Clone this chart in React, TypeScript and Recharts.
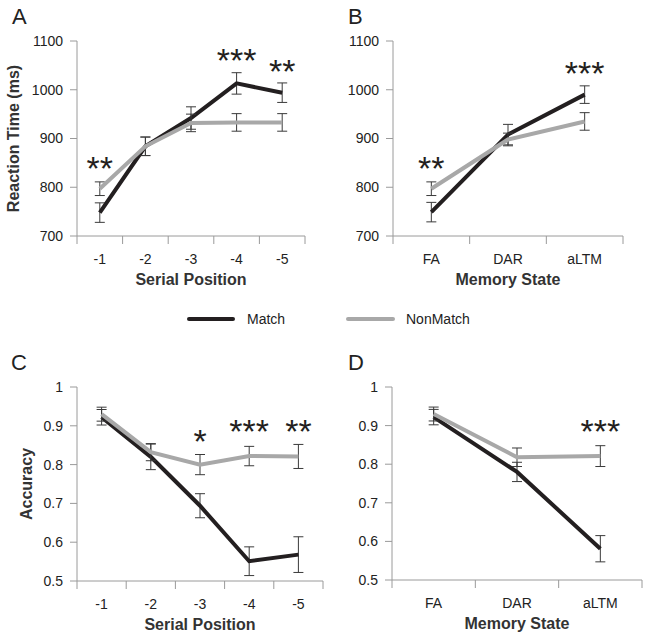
import React from "react";
import { LineChart, Line, XAxis, YAxis, ErrorBar, ReferenceDot } from "recharts";

const FONT = "'Liberation Sans', Arial, Helvetica, sans-serif";
const AXIS = "#9a9a9a";
const INK = "#231f20";
const GREY = "#a8a8a8";
const ERR = "#3a3a3a";

const serialPositions = ["-1", "-2", "-3", "-4", "-5"];
const memoryStates = ["FA", "DAR", "aLTM"];

// A - reaction time by serial position
const rtSerialMatch = [748, 884, 942, 1013, 994];
const rtSerialMatchErr = [20, 19, 23, 22, 20];
const rtSerialNonMatch = [797, 884, 932, 933, 933];
const rtSerialNonMatchErr = [14, 19, 18, 18, 18];
const rtSerialStars = ["**", "", "", "***", "**"];
const rtSerialStarY = [856, null, null, 1077, 1055];

// B - reaction time by memory state
const rtStateMatch = [749, 908, 990];
const rtStateMatchErr = [20, 21, 18];
const rtStateNonMatch = [797, 898, 935];
const rtStateNonMatchErr = [14, 13, 18];
const rtStateStars = ["**", "", "***"];
const rtStateStarY = [856, null, 1051];

// C - accuracy by serial position
const accSerialMatch = [0.922, 0.82, 0.694, 0.551, 0.568];
const accSerialMatchErr = [0.02, 0.033, 0.031, 0.037, 0.046];
const accSerialNonMatch = [0.93, 0.832, 0.8, 0.822, 0.821];
const accSerialNonMatchErr = [0.018, 0.022, 0.026, 0.025, 0.031];
const accSerialStars = ["", "", "*", "***", "**"];
const accSerialStarY = [null, null, 0.881, 0.907, 0.907];

// D - accuracy by memory state
const accStateMatch = [0.922, 0.78, 0.581];
const accStateMatchErr = [0.02, 0.025, 0.034];
const accStateNonMatch = [0.93, 0.818, 0.821];
const accStateNonMatchErr = [0.018, 0.024, 0.027];
const accStateStars = ["", "", "***"];
const accStateStarY = [null, null, 0.907];

const rtTicks = [700, 800, 900, 1000, 1100];
const accTicks = [0.5, 0.6, 0.7, 0.8, 0.9, 1];

type PanelProps = {
  left: number;
  top: number;
  width: number;
  height: number;
  plotLeft: number;
  plotRight: number;
  plotTop: number;
  plotBottom: number;
  categories: string[];
  match: number[];
  matchErr: number[];
  nonMatch: number[];
  nonMatchErr: number[];
  stars: string[];
  starY: (number | null)[];
  yDomain: [number, number];
  yTicks: number[];
  xTitle: string;
  yTitle?: string;
  yTitleX?: number;
};

function makeXTick(labels: string[]) {
  return (props: any) => {
    const { x, y, payload } = props;
    const v = payload.value as number;
    if (Number.isInteger(v)) {
      return (
        <text x={x} y={y + 28} textAnchor="middle" fontSize={14} fill="#222" fontFamily={FONT}>
          {labels[v - 1]}
        </text>
      );
    }
    return <line x1={x} x2={x} y1={y} y2={y + 8} stroke={AXIS} strokeWidth={1} />;
  };
}

function starLabel(text: string) {
  return (props: any) => {
    const vb = props.viewBox || {};
    const cx = vb.x + (vb.width || 0) / 2;
    const cy = vb.y + (vb.height || 0) / 2;
    return (
      <text x={cx} y={cy + 20} textAnchor="middle" fontSize={34} fill={INK} fontFamily={FONT}>
        {text}
      </text>
    );
  };
}

function Panel(p: PanelProps) {
  const data = p.categories.map((c, i) => ({
    x: i + 1,
    match: p.match[i],
    matchErr: p.matchErr[i],
    nonMatch: p.nonMatch[i],
    nonMatchErr: p.nonMatchErr[i],
  }));
  const n = p.categories.length;
  const xTicks: number[] = [];
  for (let i = 0; i <= n * 2; i++) xTicks.push(0.5 + i * 0.5);

  return (
    <div style={{ position: "absolute", left: p.left, top: p.top }}>
      <LineChart
        width={p.width}
        height={p.height}
        data={data}
        margin={{ top: p.plotTop - p.top, right: p.left + p.width - p.plotRight, bottom: 0, left: 0 }}
      >
        <XAxis
          dataKey="x"
          type="number"
          domain={[0.5, n + 0.5]}
          ticks={xTicks}
          interval={0}
          tickLine={false}
          tickSize={0}
          tickMargin={0}
          height={p.top + p.height - p.plotBottom}
          axisLine={{ stroke: AXIS, strokeWidth: 1 }}
          tick={makeXTick(p.categories)}
          label={(lp: any) => {
            const vb = lp.viewBox;
            return (
              <text
                x={vb.x + vb.width / 2}
                y={vb.y + 49}
                textAnchor="middle"
                fontSize={16}
                fontWeight="bold"
                fill="#333"
                fontFamily={FONT}
              >
                {p.xTitle}
              </text>
            );
          }}
        />
        <YAxis
          type="number"
          domain={p.yDomain}
          ticks={p.yTicks}
          allowDataOverflow
          width={p.plotLeft - p.left}
          tickSize={7}
          tickMargin={7}
          axisLine={{ stroke: AXIS, strokeWidth: 1 }}
          tickLine={{ stroke: AXIS, strokeWidth: 1 }}
          tick={{ fontSize: 14, fill: "#222", fontFamily: FONT }}
          label={
            p.yTitle
              ? (lp: any) => {
                  const vb = lp.viewBox;
                  const cx = p.yTitleX ?? 14;
                  const cy = vb.y + vb.height / 2;
                  return (
                    <text
                      x={cx}
                      y={cy}
                      transform={`rotate(-90 ${cx} ${cy})`}
                      textAnchor="middle"
                      dominantBaseline="central"
                      fontSize={16}
                      fontWeight="bold"
                      fill="#333"
                      fontFamily={FONT}
                    >
                      {p.yTitle}
                    </text>
                  );
                }
              : undefined
          }
        />
        <Line
          dataKey="match"
          name="Match"
          stroke={INK}
          strokeWidth={4}
          dot={false}
          activeDot={false}
          isAnimationActive={false}
        >
          <ErrorBar dataKey="matchErr" direction="y" width={5} stroke={ERR} strokeWidth={1} />
        </Line>
        <Line
          dataKey="nonMatch"
          name="NonMatch"
          stroke={GREY}
          strokeWidth={4}
          dot={false}
          activeDot={false}
          isAnimationActive={false}
        >
          <ErrorBar dataKey="nonMatchErr" direction="y" width={5} stroke={ERR} strokeWidth={1} />
        </Line>
        {p.stars.map((s, i) =>
          s && p.starY[i] != null ? (
            <ReferenceDot
              key={i}
              x={i + 1}
              y={p.starY[i] as number}
              r={1}
              fill="none"
              stroke="none"
              label={starLabel(s)}
            />
          ) : null
        )}
      </LineChart>
    </div>
  );
}

export default function App() {
  return (
    <div
      style={{
        position: "absolute",
        left: 0,
        top: 0,
        width: 649,
        height: 640,
        background: "#fff",
        fontFamily: FONT,
      }}
    >
      <Panel
        left={0}
        top={0}
        width={320}
        height={300}
        plotLeft={77}
        plotRight={305}
        plotTop={41}
        plotBottom={236}
        categories={serialPositions}
        match={rtSerialMatch}
        matchErr={rtSerialMatchErr}
        nonMatch={rtSerialNonMatch}
        nonMatchErr={rtSerialNonMatchErr}
        stars={rtSerialStars}
        starY={rtSerialStarY}
        yDomain={[700, 1100]}
        yTicks={rtTicks}
        xTitle="Serial Position"
        yTitle="Reaction Time (ms)"
        yTitleX={13}
      />
      <Panel
        left={320}
        top={0}
        width={329}
        height={300}
        plotLeft={393}
        plotRight={623}
        plotTop={41}
        plotBottom={236}
        categories={memoryStates}
        match={rtStateMatch}
        matchErr={rtStateMatchErr}
        nonMatch={rtStateNonMatch}
        nonMatchErr={rtStateNonMatchErr}
        stars={rtStateStars}
        starY={rtStateStarY}
        yDomain={[700, 1100]}
        yTicks={rtTicks}
        xTitle="Memory State"
      />
      <Panel
        left={0}
        top={320}
        width={330}
        height={320}
        plotLeft={77}
        plotRight={323}
        plotTop={387}
        plotBottom={581}
        categories={serialPositions}
        match={accSerialMatch}
        matchErr={accSerialMatchErr}
        nonMatch={accSerialNonMatch}
        nonMatchErr={accSerialNonMatchErr}
        stars={accSerialStars}
        starY={accSerialStarY}
        yDomain={[0.5, 1]}
        yTicks={accTicks}
        xTitle="Serial Position"
        yTitle="Accuracy"
        yTitleX={26}
      />
      <Panel
        left={320}
        top={320}
        width={329}
        height={320}
        plotLeft={392}
        plotRight={642}
        plotTop={387}
        plotBottom={580}
        categories={memoryStates}
        match={accStateMatch}
        matchErr={accStateMatchErr}
        nonMatch={accStateNonMatch}
        nonMatchErr={accStateNonMatchErr}
        stars={accStateStars}
        starY={accStateStarY}
        yDomain={[0.5, 1]}
        yTicks={accTicks}
        xTitle="Memory State"
      />
      <svg
        width={649}
        height={640}
        style={{ position: "absolute", left: 0, top: 0, pointerEvents: "none" }}
      >
        <g fontFamily={FONT} fill="#222" fontSize={22}>
          <text x={12} y={24}>A</text>
          <text x={348} y={24}>B</text>
          <text x={11} y={370}>C</text>
          <text x={348} y={370}>D</text>
        </g>
        <line x1={189} x2={233} y1={319} y2={319} stroke={INK} strokeWidth={4} strokeLinecap="round" />
        <text x={247} y={324} fontSize={14} fill="#222" fontFamily={FONT}>Match</text>
        <line x1={348} x2={393} y1={319} y2={319} stroke={GREY} strokeWidth={4} strokeLinecap="round" />
        <text x={406} y={324} fontSize={14} fill="#222" fontFamily={FONT}>NonMatch</text>
      </svg>
    </div>
  );
}
